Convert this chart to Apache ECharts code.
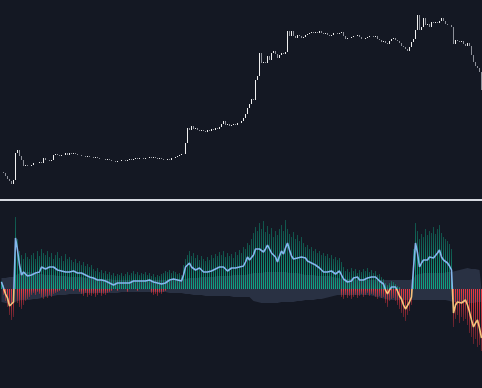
<!DOCTYPE html>
<html><head><meta charset="utf-8">
<script src="https://cdn.jsdelivr.net/npm/echarts@6/dist/echarts.min.js"></script>
<style>html,body{margin:0;padding:0;background:#141823;overflow:hidden;width:482px;height:388px;}#c{width:484px;height:388px;}</style>
</head><body><div id="c"></div>
<script>
// Price closes (one per bar)
const closes = [
28,27,24,21,19,16,20,47,50,44,40,34,35,34,34,35,37,37,37,38,37,42,40,40,39,40,45,46,45,44,45,45,47,45,47,46,47,46,45,45,44,
44,43,44,43,43,42,43,42,41,41,41,40,41,40,39,39,38,39,39,40,40,39,40,41,40,41,42,41,42,42,41,42,42,43,42,43,42,41,42,41,
40,40,41,40,42,42,43,44,45,46,46,57,72,70,74,71,72,70,69,70,69,68,70,69,71,70,72,71,73,76,79,75,76,74,75,76,75,77,77,79,
82,86,92,96,101,100,120,124,147,137,138,137,144,140,147,149,146,142,145,147,146,148,169,164,169,164,162,165,164,162,163,165,166,167,168,167,168,167,169,167,
166,167,165,164,165,167,167,166,167,168,164,161,162,162,163,164,164,165,163,161,161,162,163,164,164,163,164,161,160,158,159,157,156,159,161,162,160,159,157,154,
153,151,149,153,158,161,170,185,170,173,182,175,176,173,178,177,178,177,179,182,179,176,175,175,173,156,160,159,158,159,156,154,157,154,145,138,134,132,128,110
];
// Oscillator line
const oscillator = [
7,1,-5,-9,-17,-19,-13,
51,39,24,14,17,16,13,12,14,
16,16,17,17,22,22,20,21,22,24,22,21,19,20,18,19,17,19,17,19,18,17,16,17,16,15,14,13,12,11,
11,9,9,10,9,8,8,7,6,5,4,5,6,6,6,6,6,6,6,7,8,9,8,9,8,7,8,8,9,8,7,6,6,5,5,6,6,7,9,10,10,11,9,10,8,
14,22,23,26,22,22,19,20,21,19,17,16,17,16,18,19,20,21,22,24,22,20,18,20,21,20,21,19,22,24,23,27,32,29,27,
34,40,41,40,42,37,40,44,40,36,37,32,27,33,38,35,41,46,39,33,30,28,31,32,32,
30,31,28,26,26,25,24,22,21,19,17,16,17,19,18,16,15,17,18,14,
10,8,7,6,8,11,10,12,9,8,9,11,11,12,12,12,12,11,8,6,5,
-1,-5,-1,2,3,2,-2,-7,-10,-16,-20,-18,-13,-8,
21,46,36,22,26,29,31,29,32,34,31,32,36,39,32,29,27,26,23,19,
-24,-16,-13,-15,-14,-12,-11,-16,-23,-31,-38,-34,-31,-39,-49
];
// Histogram: buying pressure (positive)
const buyBars = [
8,4,0,0,0,0,0,
72,50,38,34,30,36,32,30,34,
36,30,38,33,40,36,34,38,32,36,30,34,37,31,33,28,35,30,32,29,27,30,26,28,24,27,23,25,22,24,
20,18,21,17,19,16,18,15,17,14,16,13,15,14,16,13,15,17,14,16,18,15,17,14,16,15,17,14,16,13,15,12,14,13,15,16,18,17,19,16,18,17,15,16,14,
24,30,34,38,33,36,31,34,29,33,30,28,32,29,34,31,35,33,37,34,38,32,36,33,35,31,37,34,39,36,42,40,46,44,50,
56,62,58,66,60,68,57,63,55,61,52,58,54,60,64,58,69,60,55,52,57,50,54,48,52,
46,42,44,40,42,38,40,36,38,34,36,33,35,31,34,30,32,29,31,27,
22,18,20,17,21,18,20,16,19,17,20,18,21,17,19,16,18,14,15,12,10,
6,4,6,8,7,5,3,2,0,0,0,0,0,0,
40,66,58,50,55,52,60,54,58,56,62,55,60,64,56,52,50,48,45,40,
0,0,0,0,0,0,0,0,0,0,0,0,0,0,0
];
// Histogram: selling pressure (negative)
const sellBars = [
0,-6,-12,-18,-26,-31,-28,
0,-14,-18,-20,-16,-12,-10,-8,-6,
-4,-6,-3,-5,-8,-10,-7,-9,-6,-8,-5,-4,-3,-2,0,0,-2,0,0,0,-2,0,0,-3,
-5,-7,-4,-8,-6,-7,-5,-8,-6,-4,-7,-5,-6,-4,-3,-2,
0,0,-2,0,0,0,0,-3,0,0,0,0,-2,0,0,0,0,0,0,
-4,-6,-5,-7,-4,-5,-3,-2,0,
0,0,0,0,0,0,0,0,0,0,0,0,0,0,0,0,0,0,0,0,0,0,0,0,0,0,0,0,0,0,0,0,0,0,0,0,0,0,0,0,0,0,0,0,0,
0,0,0,0,0,0,0,0,0,0,0,0,0,0,0,0,0,0,0,0,0,0,0,0,0,0,0,0,0,0,0,0,0,0,0,0,0,0,0,0,0,
-8,-10,-6,-9,-7,-10,-8,-6,-9,-7,-5,-8,-6,-4,-7,-5,-6,-8,-10,-7,-9,-8,
-14,-18,-12,-10,-9,-12,-16,-20,-24,-28,-32,-26,-22,-16,
0,0,0,0,0,0,0,0,0,0,0,0,0,0,0,0,0,0,0,0,
-38,-30,-26,-34,-28,-32,-30,-36,-44,-48,-55,-50,-58,-56,-62
];
// Volatility band edges
const bandUpper = [
11,11,11,12,12,12,12,
14,15,16,16,17,17,16,17,17,16,16,15,16,15,15,14,15,14,14,
14,14,13,13,13,13,13,12,12,12,12,12,12,12,12,11,11,11,11,11,11,10,10,10,10,
10,10,10,10,10,9,9,9,9,9,9,9,9,9,9,9,9,9,9,9,9,9,9,9,9,9,9,9,9,9,9,9,9,9,9,10,10,10,10,10,
10,10,10,11,11,11,11,11,12,12,12,12,12,12,12,12,13,13,13,13,13,13,13,13,13,14,14,14,14,14,14,14,15,15,15,
16,16,16,16,16,16,17,17,17,17,17,17,17,17,17,17,17,17,16,16,16,16,16,15,15,
14,14,14,14,14,14,14,13,13,13,13,13,13,13,13,12,12,
11,11,10,10,10,10,10,10,10,10,9,9,9,9,9,9,9,9,9,9,9,9,9,9,
9,9,9,9,9,9,9,9,9,9,9,9,9,9,10,
14,15,15,16,16,16,16,16,16,16,16,16,16,16,16,17,17,17,17,
18,18,19,19,20,20,20,21,21,20,20,20,19,19,18
];
const bandLower = [
-13,-14,-14,-14,-15,-15,-14,
-12,-12,-11,-11,-11,-11,-11,-11,-10,-10,-10,-10,-9,-9,-9,-8,-8,-7,-7,
-7,-6,-6,-6,-6,-6,-6,-5,-5,-5,-5,-5,-5,-5,-5,-5,-4,-4,-4,-4,-4,-4,-4,-4,-4,
-4,-4,-4,-4,-4,-4,-4,-4,-3,-3,-3,-3,-3,-3,-3,-3,-3,-3,-3,-3,-3,-3,-3,-3,-3,-3,-3,-3,-3,-3,-3,-3,-3,-4,-4,-4,-4,-4,-4,-4,
-5,-5,-5,-5,-6,-6,-6,-6,-6,-6,-6,-7,-7,-7,-7,-7,-7,-7,-7,-7,-7,-7,-7,-7,-7,-8,-8,-8,-8,-8,-8,-8,-8,-8,-9,
-12,-13,-13,-13,-14,-14,-14,-14,-14,-14,-14,-14,-14,-14,-13,-13,-13,-13,-13,-13,-13,-12,-12,-12,-12,
-11,-11,-11,-11,-11,-11,-11,-10,-10,-10,-10,-9,-9,-8,-8,-7,-7,
-6,-6,-6,-6,-6,-6,-6,-6,-6,-6,-6,-6,-6,-6,-6,-6,-6,-7,-7,-7,-8,-8,-9,-10,
-10,-10,-11,-11,-11,-11,-11,-11,-11,-11,-11,-11,-11,-11,-11,
-11,-11,-11,-11,-11,-11,-11,-11,-11,-11,-11,-11,-11,-11,-11,-11,-11,-12,-12,
-13,-13,-13,-13,-14,-14,-14,-14,-14,-14,-14,-13,-13,-13,-13
];

const categories = closes.map((_, i) => String(i));
const candles = closes.map((c, i) => {
  const o = i > 0 ? closes[i - 1] : c;
  return [o, c, Math.min(o, c), Math.max(o, c)];
});

const G = echarts.graphic.LinearGradient;
const greenGrad = new G(0, 0, 0, 1, [
  {offset: 0, color: 'rgba(12,168,132,0.4)'},
  {offset: 1, color: 'rgba(12,168,132,1)'}
]);
const redGrad = new G(0, 0, 0, 1, [
  {offset: 0, color: 'rgba(240,55,65,1)'},
  {offset: 1, color: 'rgba(240,55,65,0.35)'}
]);
const bandColor = 'rgba(82,96,128,0.5)';

const chart = echarts.init(document.getElementById('c'), null, {renderer: 'canvas'});
chart.setOption({
  backgroundColor: '#141823',
  animation: false,
  grid: [
    {left: 0.5, width: 482, top: 0, height: 200},
    {left: 0.5, width: 482, top: 201, height: 187}
  ],
  xAxis: [
    {type: 'category', data: categories, gridIndex: 0, boundaryGap: true,
     axisLine: {show: true, lineStyle: {color: '#d6d9e0', width: 2}},
     axisTick: {show: false}, axisLabel: {show: false}, splitLine: {show: false}},
    {type: 'category', data: categories, gridIndex: 1, boundaryGap: true,
     axisLine: {show: false}, axisTick: {show: false}, axisLabel: {show: false}, splitLine: {show: false}}
  ],
  yAxis: [
    {type: 'value', gridIndex: 0, min: 0, max: 200, show: false, splitLine: {show: false}},
    {type: 'value', gridIndex: 1, min: -99, max: 88, show: false, splitLine: {show: false}}
  ],
  visualMap: {
    show: false, type: 'piecewise', seriesIndex: 5, dimension: 1,
    pieces: [{gt: 0, lte: 1000, color: '#84b6ec'}, {gt: -1000, lte: 0, color: '#f4c27c'}]
  },
  series: [
    {type: 'candlestick', xAxisIndex: 0, yAxisIndex: 0, data: candles, barWidth: 0.01,
     itemStyle: {color: '#f0f0f0', color0: '#8d9099', borderColor: '#f0f0f0', borderColor0: '#8d9099', borderWidth: 1}},
    {type: 'line', xAxisIndex: 1, yAxisIndex: 1, data: bandUpper, symbol: 'none',
     lineStyle: {width: 0}, areaStyle: {color: bandColor, origin: 0}, z: 1},
    {type: 'line', xAxisIndex: 1, yAxisIndex: 1, data: bandLower, symbol: 'none',
     lineStyle: {width: 0}, areaStyle: {color: bandColor, origin: 0}, z: 1},
    {type: 'bar', xAxisIndex: 1, yAxisIndex: 1, data: buyBars, barWidth: 1, barGap: '-100%',
     itemStyle: {color: greenGrad}, z: 2},
    {type: 'bar', xAxisIndex: 1, yAxisIndex: 1, data: sellBars, barWidth: 1, barGap: '-100%',
     itemStyle: {color: redGrad}, z: 2},
    {type: 'line', xAxisIndex: 1, yAxisIndex: 1, data: oscillator, symbol: 'none', smooth: false,
     lineStyle: {width: 1.6}, z: 5}
  ]
});
</script></body></html>
